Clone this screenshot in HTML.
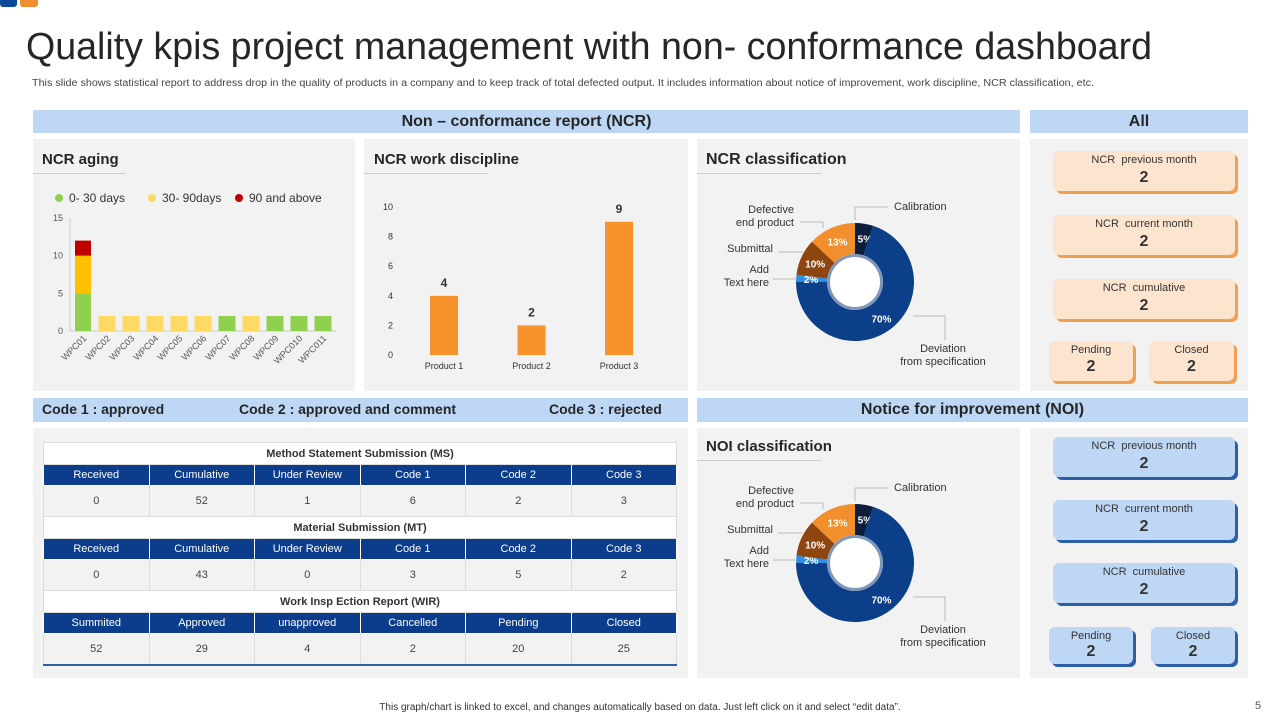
<!DOCTYPE html>
<html><head><meta charset="utf-8">
<style>
*{margin:0;padding:0;box-sizing:border-box}
body{width:1280px;height:720px;background:#fff;font-family:"Liberation Sans",Arial,sans-serif;position:relative;overflow:hidden;color:#333}
.abs{position:absolute}
.bar{background:#bdd7f5;color:#262626;font-weight:bold;font-size:16px;text-align:center;line-height:23px}
.panel{background:#f2f2f2}
.ptitle{font-size:15px;font-weight:bold;color:#262626}
.arrow{height:1px;background:#ccc}
.card{border-radius:6px;text-align:center;color:#333}
.card .l{font-size:11px;margin-top:3px}
.card .v{font-size:16px;font-weight:bold;margin-top:3px}
.oc{background:#fde4cf;box-shadow:3px 3px 0 #f0a050}
.bc{background:#bdd7f5;box-shadow:3px 3px 0 #2c5fa8}
table{border-collapse:collapse;font-size:11px;text-align:center;width:634px;table-layout:fixed}
td{border:1px solid #ddd}
.tt td{background:#fff;height:22px;font-weight:bold;color:#333;font-size:11px}
.th td{background:#0b3d8c;color:#fff;height:21px;border-color:#fff}
.tr td{background:#f2f2f2;height:31px;color:#444}
</style></head><body>
<div class="abs" style="left:0;top:0;width:17px;height:7px;background:#0b4a95;border-radius:0 0 3px 3px"></div>
<div class="abs" style="left:20px;top:0;width:18px;height:7px;background:#f28e2b;border-radius:0 0 3px 3px"></div>
<svg class="abs" style="left:0;top:20px" width="1280" height="50"><text x="26" y="39" font-size="38" fill="#262626" textLength="1126" lengthAdjust="spacingAndGlyphs" font-family="Liberation Sans, sans-serif">Quality kpis project management with non- conformance dashboard</text></svg>
<svg class="abs" style="left:0;top:74px" width="1280" height="16"><text x="32" y="12" font-size="10" fill="#444" textLength="1062" lengthAdjust="spacingAndGlyphs">This slide shows statistical report to address drop in the quality of products in a company and to keep track of total defected output. It includes information about notice of improvement, work discipline, NCR classification, etc.</text></svg>

<div class="abs bar" style="left:33px;top:110px;width:987px">Non – conformance report (NCR)</div>
<div class="abs bar" style="left:1030px;top:110px;width:218px">All</div>

<div class="abs panel" style="left:33px;top:139px;width:322px;height:252px"></div>
<div class="abs panel" style="left:364px;top:139px;width:324px;height:252px"></div>
<div class="abs panel" style="left:697px;top:139px;width:323px;height:252px"></div>
<div class="abs panel" style="left:1030px;top:139px;width:218px;height:252px"></div>

<div class="abs ptitle" style="left:42px;top:151px">NCR aging</div>
<div class="abs arrow" style="left:33px;top:173px;width:92px"></div>
<div class="abs ptitle" style="left:374px;top:151px">NCR work discipline</div>
<div class="abs arrow" style="left:364px;top:173px;width:124px"></div>
<div class="abs ptitle" style="left:706px;top:151px;font-size:16px">NCR classification</div>
<div class="abs arrow" style="left:697px;top:173px;width:124px"></div>

<!-- All cards -->
<div class="abs card oc" style="left:1053px;top:151px;width:182px;height:40px"><div class="l">NCR &nbsp;previous month</div><div class="v">2</div></div>
<div class="abs card oc" style="left:1053px;top:215px;width:182px;height:40px"><div class="l">NCR &nbsp;current month</div><div class="v">2</div></div>
<div class="abs card oc" style="left:1053px;top:279px;width:182px;height:40px"><div class="l">NCR &nbsp;cumulative</div><div class="v">2</div></div>
<div class="abs card oc" style="left:1049px;top:341px;width:84px;height:40px"><div class="l">Pending</div><div class="v" style="margin-top:2px">2</div></div>
<div class="abs card oc" style="left:1149px;top:341px;width:85px;height:40px"><div class="l">Closed</div><div class="v" style="margin-top:2px">2</div></div>

<div class="abs bar" style="left:33px;top:398px;width:655px;font-size:14px;text-align:left;height:24px">
<span style="position:absolute;left:9px">Code 1 : approved</span><span style="position:absolute;left:206px">Code 2 : approved and comment</span><span style="position:absolute;left:516px">Code 3 : rejected</span></div>
<div class="abs bar" style="left:697px;top:398px;width:551px;height:24px">Notice for improvement (NOI)</div>

<div class="abs panel" style="left:33px;top:428px;width:655px;height:250px"></div>
<div class="abs panel" style="left:697px;top:428px;width:323px;height:250px"></div>
<div class="abs panel" style="left:1030px;top:428px;width:218px;height:250px"></div>
<div class="abs ptitle" style="left:706px;top:438px">NOI classification</div>
<div class="abs arrow" style="left:697px;top:460px;width:124px"></div>

<div class="abs" style="left:43px;top:442px">
<table>
<tr class="tt"><td colspan="6">Method Statement Submission (MS)</td></tr>
<tr class="th"><td>Received</td><td>Cumulative</td><td>Under Review</td><td>Code 1</td><td>Code 2</td><td>Code 3</td></tr>
<tr class="tr"><td>0</td><td>52</td><td>1</td><td>6</td><td>2</td><td>3</td></tr>
<tr class="tt"><td colspan="6">Material Submission (MT)</td></tr>
<tr class="th"><td>Received</td><td>Cumulative</td><td>Under Review</td><td>Code 1</td><td>Code 2</td><td>Code 3</td></tr>
<tr class="tr"><td>0</td><td>43</td><td>0</td><td>3</td><td>5</td><td>2</td></tr>
<tr class="tt"><td colspan="6">Work Insp Ection Report (WIR)</td></tr>
<tr class="th"><td>Summited</td><td>Approved</td><td>unapproved</td><td>Cancelled</td><td>Pending</td><td>Closed</td></tr>
<tr class="tr" style="border-bottom:2px solid #2c5fa8"><td>52</td><td>29</td><td>4</td><td>2</td><td>20</td><td>25</td></tr>
</table></div>

<div class="abs card bc" style="left:1053px;top:437px;width:182px;height:40px"><div class="l">NCR &nbsp;previous month</div><div class="v">2</div></div>
<div class="abs card bc" style="left:1053px;top:500px;width:182px;height:40px"><div class="l">NCR &nbsp;current month</div><div class="v">2</div></div>
<div class="abs card bc" style="left:1053px;top:563px;width:182px;height:40px"><div class="l">NCR &nbsp;cumulative</div><div class="v">2</div></div>
<div class="abs card bc" style="left:1049px;top:627px;width:84px;height:37px"><div class="l">Pending</div><div class="v" style="margin-top:1px">2</div></div>
<div class="abs card bc" style="left:1151px;top:627px;width:84px;height:37px"><div class="l">Closed</div><div class="v" style="margin-top:1px">2</div></div>

<div class="abs" style="left:0;width:1280px;top:702px;text-align:center;font-size:10px;color:#333">This graph/chart is linked to excel, and changes automatically based on data. Just left click on it and select “edit data”.</div>
<div class="abs" style="left:1255px;top:700px;font-size:11px;color:#555">5</div>

<svg class="abs" style="left:0;top:0;pointer-events:none" width="1280" height="720" id="charts"></svg>

<script>
const agingCats=["WPC01","WPC02","WPC03","WPC04","WPC05","WPC06","WPC07","WPC08","WPC09","WPC010","WPC011"];
const aging0to30=[5,0,0,0,0,0,2,0,2,2,2];
const aging30to90=[5,2,2,2,2,2,0,2,0,0,0];
const aging90plus=[2,0,0,0,0,0,0,0,0,0,0];
const agingTicks=[0,5,10,15];
const agingLegend=["0- 30 days","30- 90days","90 and above"];
const wdCats=["Product 1","Product 2","Product 3"];
const wdValues=[4,2,9];
const wdTicks=[0,2,4,6,8,10];
const clsLabels=["Calibration","Deviation from specification","Add Text here","Submittal","Defective end product"];
const ncrClsValues=[5,70,2,10,13];
const noiClsValues=[5,70,2,10,13];

const NS="http://www.w3.org/2000/svg";
const svg=document.getElementById('charts');
function mk(t,a,txt){const e=document.createElementNS(NS,t);for(const k in a)e.setAttribute(k,a[k]);if(txt!==undefined)e.textContent=txt;svg.appendChild(e);return e;}

// NCR aging
const ay=v=>331-v*(113/15), ax=i=>83+i*24;
const agCols=["#8fd14f","#ffd966","#c00000"];
const agBarCols=["#8fd14f","#ffc000","#c00000"];
agingLegend.forEach((l,i)=>{const x=[55,148,235][i];
 let c=mk('circle',{cx:x+4,cy:198,r:4,fill:agCols[i]});
 
 let t=mk('text',{x:x+14,y:202,'font-size':12,fill:'#333'},l);
 });
agingTicks.forEach(v=>{let t=mk('text',{x:63,y:ay(v)+3,'font-size':9,fill:'#555','text-anchor':'end'},v);
 });
let axl=mk('line',{x1:70,y1:ay(0),x2:70,y2:ay(15),stroke:'#ccc'});
let bxl=mk('line',{x1:70,y1:ay(0),x2:336,y2:ay(0),stroke:'#ccc'});
agingCats.forEach((c,i)=>{let base=0;
 const w=i==0?16:17;
 [aging0to30,aging30to90,aging90plus].forEach((s,k)=>{const v=s[i];if(!v)return;
  const col=(k==1&&i>0)?"#ffd966":agBarCols[k];
  let r=mk('rect',{x:ax(i)-w/2,y:ay(base+v),width:w,height:ay(base)-ay(base+v),fill:col});
  base+=v;});
 let t=mk('text',{x:ax(i)+4,y:ay(0)+8,'font-size':9,fill:'#555','text-anchor':'end',transform:`rotate(-45 ${ax(i)+4} ${ay(0)+8})`},c);
 });

// Work discipline
const wy=v=>355-v*14.8, wx=i=>444+i*87.5;
wdTicks.forEach(v=>{let t=mk('text',{x:393,y:wy(v)+3,'font-size':9,fill:'#333','text-anchor':'end'},v);
 });
wdCats.forEach((c,i)=>{let r=mk('rect',{x:wx(i)-14,y:wy(wdValues[i]),width:28,height:wy(0)-wy(wdValues[i]),fill:'#f7922d'});
 
 let v=mk('text',{x:wx(i),y:wy(wdValues[i])-9,'font-size':12,'font-weight':'bold',fill:'#333','text-anchor':'middle'},wdValues[i]);
 
 let t=mk('text',{x:wx(i),y:369,'font-size':9,fill:'#333','text-anchor':'middle'},c);
 });

// Donuts
const clsCols=["#0d1e3d","#0b3f89","#2f8fe6","#8f4510","#f28e2b"];
function donut(vals,cx,cy,pfx){
 const R=59,r=28;const tot=vals.reduce((a,b)=>a+b,0);let a0=-Math.PI/2;
 vals.forEach((v,i)=>{const a1=a0+v/tot*2*Math.PI;const lg=(a1-a0)>Math.PI?1:0;
  const p=(a,rr)=>[cx+rr*Math.cos(a),cy+rr*Math.sin(a)];
  const [x0,y0]=p(a0,R),[x1,y1]=p(a1,R),[x2,y2]=p(a1,r),[x3,y3]=p(a0,r);
  let s=mk('path',{d:`M${x0} ${y0}A${R} ${R} 0 ${lg} 1 ${x1} ${y1}L${x2} ${y2}A${r} ${r} 0 ${lg} 0 ${x3} ${y3}Z`,fill:clsCols[i]});
  
  const am=(a0+a1)/2;const rl=i==1?45:44;const [lx,ly]=p(am,rl);
  let t=mk('text',{x:lx+(i==0?3:0),y:ly+4,'font-size':10,'font-weight':'bold',fill:'#fff','text-anchor':'middle'},v+'%');
  
  a0=a1;});
 let h=mk('circle',{cx:cx,cy:cy,r:r,fill:'#7f97b8'});
 let h2=mk('circle',{cx:cx,cy:cy,r:r-3,fill:'#fff'});
 const lab=[[894,cy-72,'start',[clsLabels[0]]],[943,cy+70,'middle',["Deviation","from specification"]],[769,cy-9,'end',["Add","Text here"]],[773,cy-30,'end',[clsLabels[3]]],[794,cy-69,'end',["Defective","end product"]]];
 lab.forEach(([x,y,an,lines],i)=>{lines.forEach((ln,j)=>{let t=mk('text',{x:x,y:y+j*13,'font-size':11,fill:'#333','text-anchor':an},ln);
  });});
 const ls=[[`M${cx} ${cy-62}V${cy-75}H${888}`],[`M${cx+58} ${cy+34}H${945}V${cy+58}`],[`M${cx-58} ${cy-3}H${773}`],[`M${cx-52} ${cy-30}H${778}`],[`M${cx-32} ${cy-54}V${cy-60}H${800}`]];
 ls.forEach(([d])=>{let l=mk('path',{d:d,stroke:'#bbb',fill:'none'});});
}
donut(ncrClsValues,855,282,'ncr');
donut(noiClsValues,855,563,'noi');
</script>
</body></html>
